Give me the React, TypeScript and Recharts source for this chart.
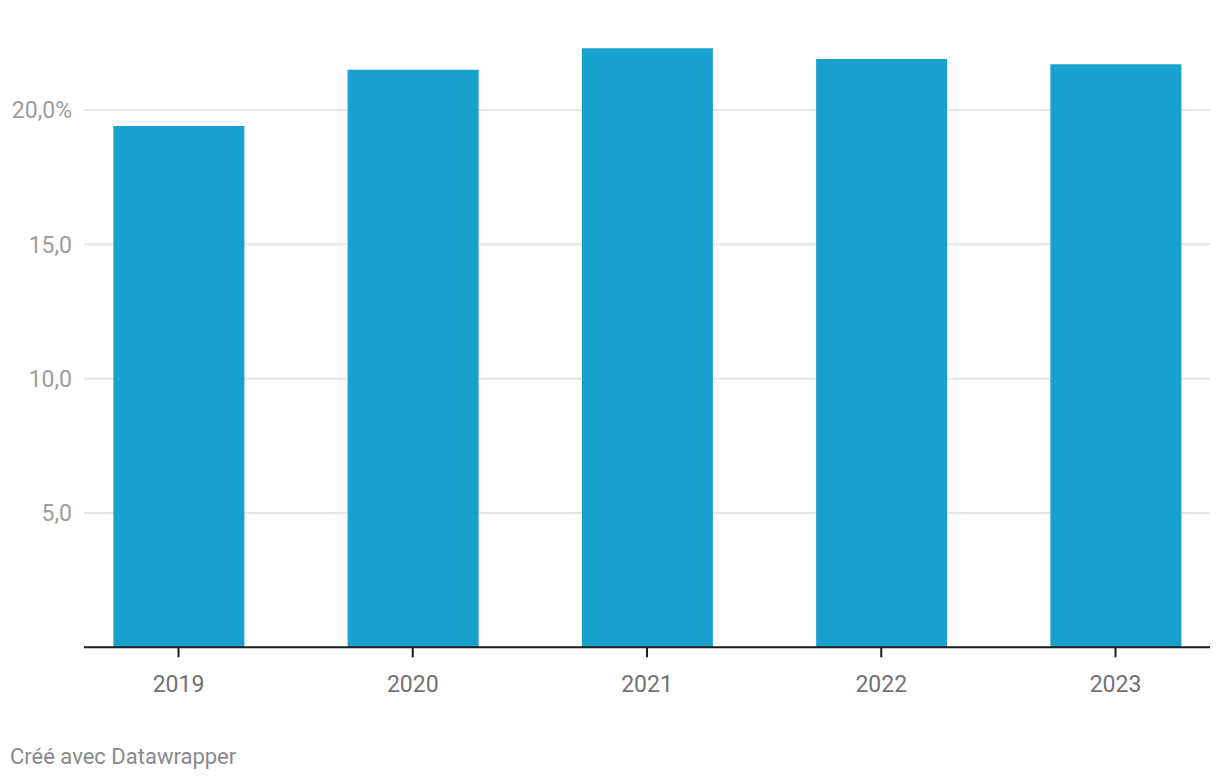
import { BarChart, Bar, XAxis, YAxis, CartesianGrid } from "recharts";

const years = ["2019", "2020", "2021", "2022", "2023"];
const shares = [19.4, 21.5, 22.3, 21.9, 21.7];
const yTicks = [5, 10, 15, 20];

const data = years.map((year, i) => ({ x: i, year, share: shares[i] }));

const FONT = "Roboto, 'Noto Sans', sans-serif";

const YTick = (props: any) => {
    const { y, payload } = props;
    const v = payload.value as number;
    const label = v.toFixed(1).replace(".", ",") + (v === 20 ? "%" : "");
    return (
        <text x={72} y={y + 8.5} textAnchor="end" fill="#9d9d9d" fontSize={23} fontFamily={FONT}>
            {label}
        </text>
    );
};

const XTick = (props: any) => {
    const { x, y, payload } = props;
    return (
        <text x={x} y={y + 35} textAnchor="middle" fill="#727272" fontSize={23} fontFamily={FONT}>
            {years[payload.value]}
        </text>
    );
};

// grid line, but leave out the edge of the plot area (only tick lines wanted)
const GridLine = (p: any) => {
    if (Math.abs(p.y1 - p.y) < 1 || Math.abs(p.y1 - (p.y + p.height)) < 1) return <g key={p.key} />;
    return <line key={p.key} x1={p.x1} x2={p.x2} y1={p.y1} y2={p.y2} stroke="#e6e6e6" strokeWidth={2} />;
};

export default function App() {
    return (
        <div style={{ position: "absolute", left: 0, top: 0, width: 1220, height: 780, background: "#fff" }}>
            <BarChart
                width={1220}
                height={780}
                data={data}
                margin={{ top: 2.5, right: 10, left: 0, bottom: 82.7 }}
            >
                <CartesianGrid vertical={false} horizontal={GridLine} />
                <YAxis
                    type="number"
                    domain={[0, 24]}
                    ticks={yTicks}
                    width={84}
                    axisLine={false}
                    tickLine={false}
                    tick={<YTick />}
                />
                <XAxis
                    type="number"
                    dataKey="x"
                    domain={[-0.4034, 4.4034]}
                    ticks={[0, 1, 2, 3, 4]}
                    allowDataOverflow
                    height={50}
                    axisLine={{ stroke: "#1d1d1d", strokeWidth: 2 }}
                    tickLine={{ stroke: "#1d1d1d", strokeWidth: 2 }}
                    tickSize={10}
                    tickMargin={0}
                    tick={<XTick />}
                />
                <Bar dataKey="share" fill="#18a1cd" barSize={131} isAnimationActive={false} />
            </BarChart>
            <div
                style={{
                    position: "absolute",
                    left: 10,
                    top: 742,
                    fontFamily: FONT,
                    fontSize: 22,
                    color: "#8a8a8a",
                    lineHeight: "30px",
                }}
            >
                Créé avec Datawrapper
            </div>
        </div>
    );
}
